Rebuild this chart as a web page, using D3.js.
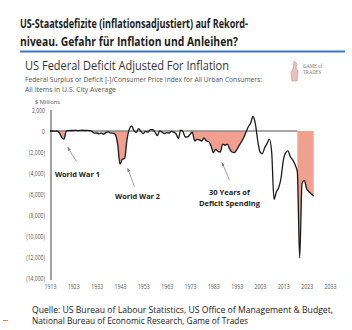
<!DOCTYPE html>
<html>
<head>
<meta charset="utf-8">
<script src="https://cdn.jsdelivr.net/npm/d3@7"></script>
<style>
  body { margin: 0; background: #fff; }
  svg { display: block; font-family: "Open Sans", sans-serif; }
</style>
</head>
<body>
<div id="chart"></div>
<script>
// deficit / CPI, one value per fiscal year starting 1913
const firstYear = 1913;
const deficit = [
  0, 0, -20, 0, -180, -600, -780,                       // 1913-1919
  20, 40, 50, 50, 60, 40, 60, 70, 50, 60,               // 1920s
  40, -40, -200, -190, -270, -200, -300, -150, -90, -200, // 1930s
  -210, -330, -1260, -3150, -2700, -2600, -820, 180, 480, 30, // 1940s
  -130, 230, -60, -240, -40, -110, 140, 120, -100, -440, // 1950s
  10, -110, -240, -160, -190, -40, -110, -260, -720, 90, // 1960s
  -70, -570, -560, -340, -120, -950, -800, -850, -950, -650, // 1970s
  -950, -1000, -1400, -2050, -1750, -1950, -2000, -1250, -1350, -1250, // 1980s
  -1700, -2000, -2050, -1800, -1400, -1050, -650, -100, 400, 750, // 1990s
  1380, 700, -880, -2000, -2150, -1600, -1200, -780, -2000, -6500, // 2000s
  -5800, -5400, -4500, -2800, -2050, -1900, -2450, -2750, -3200, -3900, // 2010s
  -12100, -5000, -4700, -5500, -5800, -6000, -6200      // 2020-2026
];
const redSpans = [[1916, 1920], [1940, 1947], [1973, 1997], [2019, 2026]];
const greySpans = [[1931, 1940]];
const xTicks = [1913, 1923, 1933, 1943, 1953, 1963, 1973, 1983, 1993, 2003, 2013, 2023, 2033];
const yTicks = [2000, 0, -2000, -4000, -6000, -8000, -10000, -12000, -14000];

const notes = [
  { lines: ["World War 1"], year: 1915.1, value: -4380, anchor: "start", widths: [45],
    tail: [1924.4, -2920], tip: [1920.6, -1550] },
  { lines: ["World War 2"], year: 1940.9, value: -6480, anchor: "start", widths: [45],
    tail: [1949.2, -5290], tip: [1946.3, -3550] },
  { lines: ["30 Years of", "Deficit Spending"], year: 1989.9, value: -6140, anchor: "middle", widths: [41, 61],
    tail: [1989.9, -4670], tip: [1986.7, -3000] }
];

const data = deficit.map((v, i) => ({ year: firstYear + i, value: v }));

const W = 352, H = 330;
const svg = d3.select("#chart").append("svg")
  .attr("width", W)
  .attr("height", H);

// squeeze a text node to a given width
function fit(sel, w) {
  sel.attr("textLength", w).attr("lengthAdjust", "spacingAndGlyphs");
}
function squeeze(sel, k) {
  sel.each(function () {
    const len = this.getComputedTextLength();
    d3.select(this).attr("textLength", len * k).attr("lengthAdjust", "spacingAndGlyphs");
  });
}

// page heading
svg.append("text").attr("x", 20).attr("y", 28)
  .style("font-size", "11.5px").style("font-weight", 700).attr("fill", "#1d1d1d")
  .text("US-Staatsdefizite (inflationsadjustiert) auf Rekord-").call(fit, 228);
svg.append("text").attr("x", 20).attr("y", 46)
  .style("font-size", "11.5px").style("font-weight", 700).attr("fill", "#1d1d1d")
  .text("niveau. Gefahr für Inflation und Anleihen?").call(fit, 218);
svg.append("line")
  .attr("x1", 20).attr("x2", 345).attr("y1", 51.5).attr("y2", 51.5)
  .attr("stroke", "#3d79c3").attr("stroke-width", 2);

// chart heading
svg.append("text").attr("x", 25).attr("y", 70)
  .style("font-size", "13px").attr("fill", "#333")
  .text("US Federal Deficit Adjusted For Inflation").call(fit, 204);
svg.append("text").attr("x", 25).attr("y", 82)
  .style("font-size", "7px").attr("fill", "#555")
  .text("Federal Surplus or Deficit [-]/Consumer Price Index for All Urban Consumers:").call(fit, 237);
svg.append("text").attr("x", 25).attr("y", 92)
  .style("font-size", "7px").attr("fill", "#555")
  .text("All Items in U.S. City Average").call(fit, 91);
svg.append("text").attr("x", 35).attr("y", 104)
  .style("font-size", "5.5px").attr("fill", "#555")
  .text("$ Millions").call(fit, 25);

// logo
const logo = svg.append("g").attr("transform", "translate(291,61)");
logo.append("path")
  .attr("d", "M3,0 L6,3 L5,7 L7,10 L6,20 L1,20 L0,12 L2,8 Z")
  .attr("fill", "#e8c2bd").attr("stroke", "#c98f8a").attr("stroke-width", 0.6);
logo.append("text").attr("x", 12).attr("y", 7)
  .style("font-family", "'Liberation Serif', serif").style("font-size", "5.5px").attr("fill", "#777")
  .text("GAME of").call(fit, 19);
logo.append("text").attr("x", 12).attr("y", 13)
  .style("font-family", "'Liberation Serif', serif").style("font-size", "5.5px").attr("fill", "#777")
  .text("TRADES").call(fit, 18);

// scales
const x = d3.scaleLinear().domain([1913, 2033]).range([50, 330]);
const y = d3.scaleLinear().domain([-14000, 2000]).range([278, 110]);

const yAxis = svg.append("g")
  .attr("transform", "translate(51,0)")
  .call(d3.axisLeft(y).tickValues(yTicks).tickSize(0).tickPadding(6)
    .tickFormat(v => v < 0 ? "(" + d3.format(",")(-v) + ")" : d3.format(",")(v)));
yAxis.select(".domain").remove();
yAxis.selectAll("text").style("font-size", "6.5px").style("font-family", "'Open Sans', sans-serif")
  .attr("fill", "#555").call(squeeze, 0.78);

const xAxis = svg.append("g")
  .attr("transform", "translate(0,281)")
  .call(d3.axisBottom(x).tickValues(xTicks).tickSize(0).tickPadding(3).tickFormat(d3.format("d")));
xAxis.select(".domain").remove();
xAxis.selectAll("text").style("font-size", "6.5px").style("font-family", "'Open Sans', sans-serif")
  .attr("fill", "#555").call(squeeze, 0.8);

svg.append("line")
  .attr("x1", 51).attr("x2", 51).attr("y1", y(2000)).attr("y2", y(-14000) + 2)
  .attr("stroke", "#8a8a8a").attr("stroke-width", 1.6);

// shaded deficit periods
const area = d3.area()
  .curve(d3.curveMonotoneX)
  .x(d => x(d.year))
  .y0(y(0))
  .y1(d => y(Math.min(d.value, 0)));

function drawSpans(spans, color) {
  spans.forEach(([a, b]) => {
    svg.append("path")
      .datum(data.filter(d => d.year >= a && d.year <= b))
      .attr("d", area)
      .attr("fill", color);
  });
}
drawSpans(greySpans, "#d6d6d6");
drawSpans(redSpans.slice(0, 3), "#f19f8f");

svg.append("line")
  .attr("x1", x(1913)).attr("x2", x(2019)).attr("y1", y(0)).attr("y2", y(0))
  .attr("stroke", "#8a8a8a").attr("stroke-width", 1.5);

drawSpans(redSpans.slice(3), "#f19f8f");

svg.append("path")
  .datum(data)
  .attr("fill", "none")
  .attr("stroke", "#1a1a1a")
  .attr("stroke-width", 1.3)
  .attr("stroke-linejoin", "round")
  .attr("d", d3.line().curve(d3.curveMonotoneX).x(d => x(d.year)).y(d => y(d.value)));

// annotations
svg.append("defs").append("marker")
  .attr("id", "head")
  .attr("viewBox", "0 0 10 10")
  .attr("refX", 9).attr("refY", 5)
  .attr("markerWidth", 5).attr("markerHeight", 5)
  .attr("orient", "auto")
  .append("path").attr("d", "M0,1 L10,5 L0,9 Z").attr("fill", "#777");

notes.forEach(n => {
  svg.append("line")
    .attr("x1", x(n.tail[0])).attr("y1", y(n.tail[1]))
    .attr("x2", x(n.tip[0])).attr("y2", y(n.tip[1]))
    .attr("stroke", "#888").attr("stroke-width", 0.8)
    .attr("marker-end", "url(#head)");
  n.lines.forEach((t, i) => {
    svg.append("text")
      .attr("x", x(n.year)).attr("y", y(n.value) + i * 10.5)
      .attr("text-anchor", n.anchor)
      .style("font-size", "7.5px").style("font-weight", 700).attr("fill", "#222")
      .text(t).call(fit, n.widths[i]);
  });
});

// source note
svg.append("text").attr("x", 32).attr("y", 313)
  .style("font-size", "8.5px").attr("fill", "#222")
  .text("Quelle: US Bureau of Labour Statistics, US Office of Management & Budget,").call(fit, 301);
svg.append("text").attr("x", 32).attr("y", 324)
  .style("font-size", "8.5px").attr("fill", "#222")
  .text("National Bureau of Economic Research, Game of Trades").call(fit, 216);

svg.append("line")
  .attr("x1", 3).attr("x2", 8).attr("y1", 320.5).attr("y2", 320.5)
  .attr("stroke", "#e0893c").attr("stroke-width", 1);
</script>
</body>
</html>
